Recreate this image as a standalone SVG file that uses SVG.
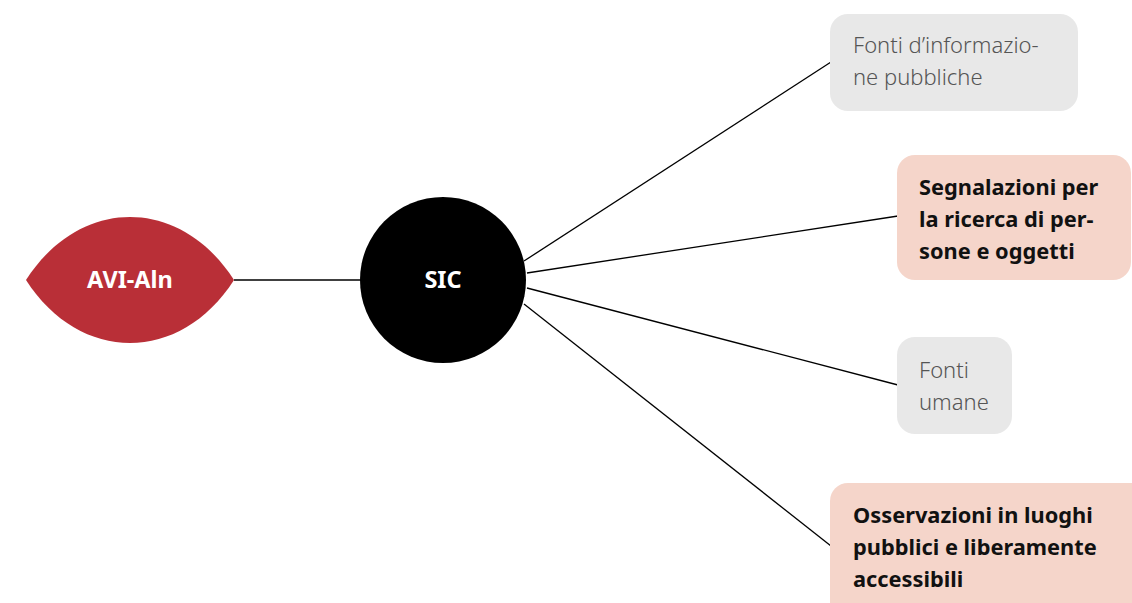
<svg xmlns="http://www.w3.org/2000/svg" width="1132" height="603" viewBox="0 0 1132 603">
<style>
.conn{stroke:#000;stroke-width:1.3;fill:none}
.grey{fill:#e8e8e8}
.pink{fill:#f5d5ca}
.lt{font-family:"Noto Sans",Lato,sans-serif;font-size:22px;fill:#555;font-weight:300}
.bd{font-family:"Noto Sans",Lato,sans-serif;font-size:21.8px;fill:#111;font-weight:700}
.wt{font-family:"Noto Sans",Lato,sans-serif;font-size:23.5px;fill:#fff;font-weight:700;text-anchor:middle}
</style>
<rect width="1132" height="603" fill="#fff"/>
<g id="connectors">
<line class="conn" x1="234" y1="280" x2="362" y2="280"/>
<line class="conn" x1="524" y1="261" x2="831" y2="62"/>
<line class="conn" x1="527" y1="273" x2="898" y2="216"/>
<line class="conn" x1="527" y1="288" x2="898" y2="385"/>
<line class="conn" x1="524" y1="304" x2="831" y2="546"/>
</g>
<g id="avi">
<path d="M26,280 C80,196 180,196 234,280 C180,364 80,364 26,280 Z" fill="#b92f37"/>
<text class="wt" x="130" y="288">AVI-Aln</text>
</g>
<g id="sic">
<circle cx="443" cy="280" r="83" fill="#000"/>
<text class="wt" x="443" y="288">SIC</text>
</g>
<g id="n1">
<rect class="grey" x="830" y="14" width="248" height="97" rx="18"/>
<text class="lt" x="853" y="53">Fonti d’informazio-</text>
<text class="lt" x="853" y="85">ne pubbliche</text>
</g>
<g id="n2">
<rect class="pink" x="897" y="155" width="234" height="125" rx="18"/>
<text class="bd" x="919" y="195">Segnalazioni per</text>
<text class="bd" x="919" y="227">la ricerca di per-</text>
<text class="bd" x="919" y="259">sone e oggetti</text>
</g>
<g id="n3">
<rect class="grey" x="897" y="337" width="115" height="97" rx="18"/>
<text class="lt" x="919" y="378">Fonti</text>
<text class="lt" x="919" y="410">umane</text>
</g>
<g id="n4">
<rect class="pink" x="830" y="483" width="320" height="140" rx="18"/>
<text class="bd" x="853" y="523">Osservazioni in luoghi</text>
<text class="bd" x="853" y="555">pubblici e liberamente</text>
<text class="bd" x="853" y="587">accessibili</text>
</g>
</svg>
